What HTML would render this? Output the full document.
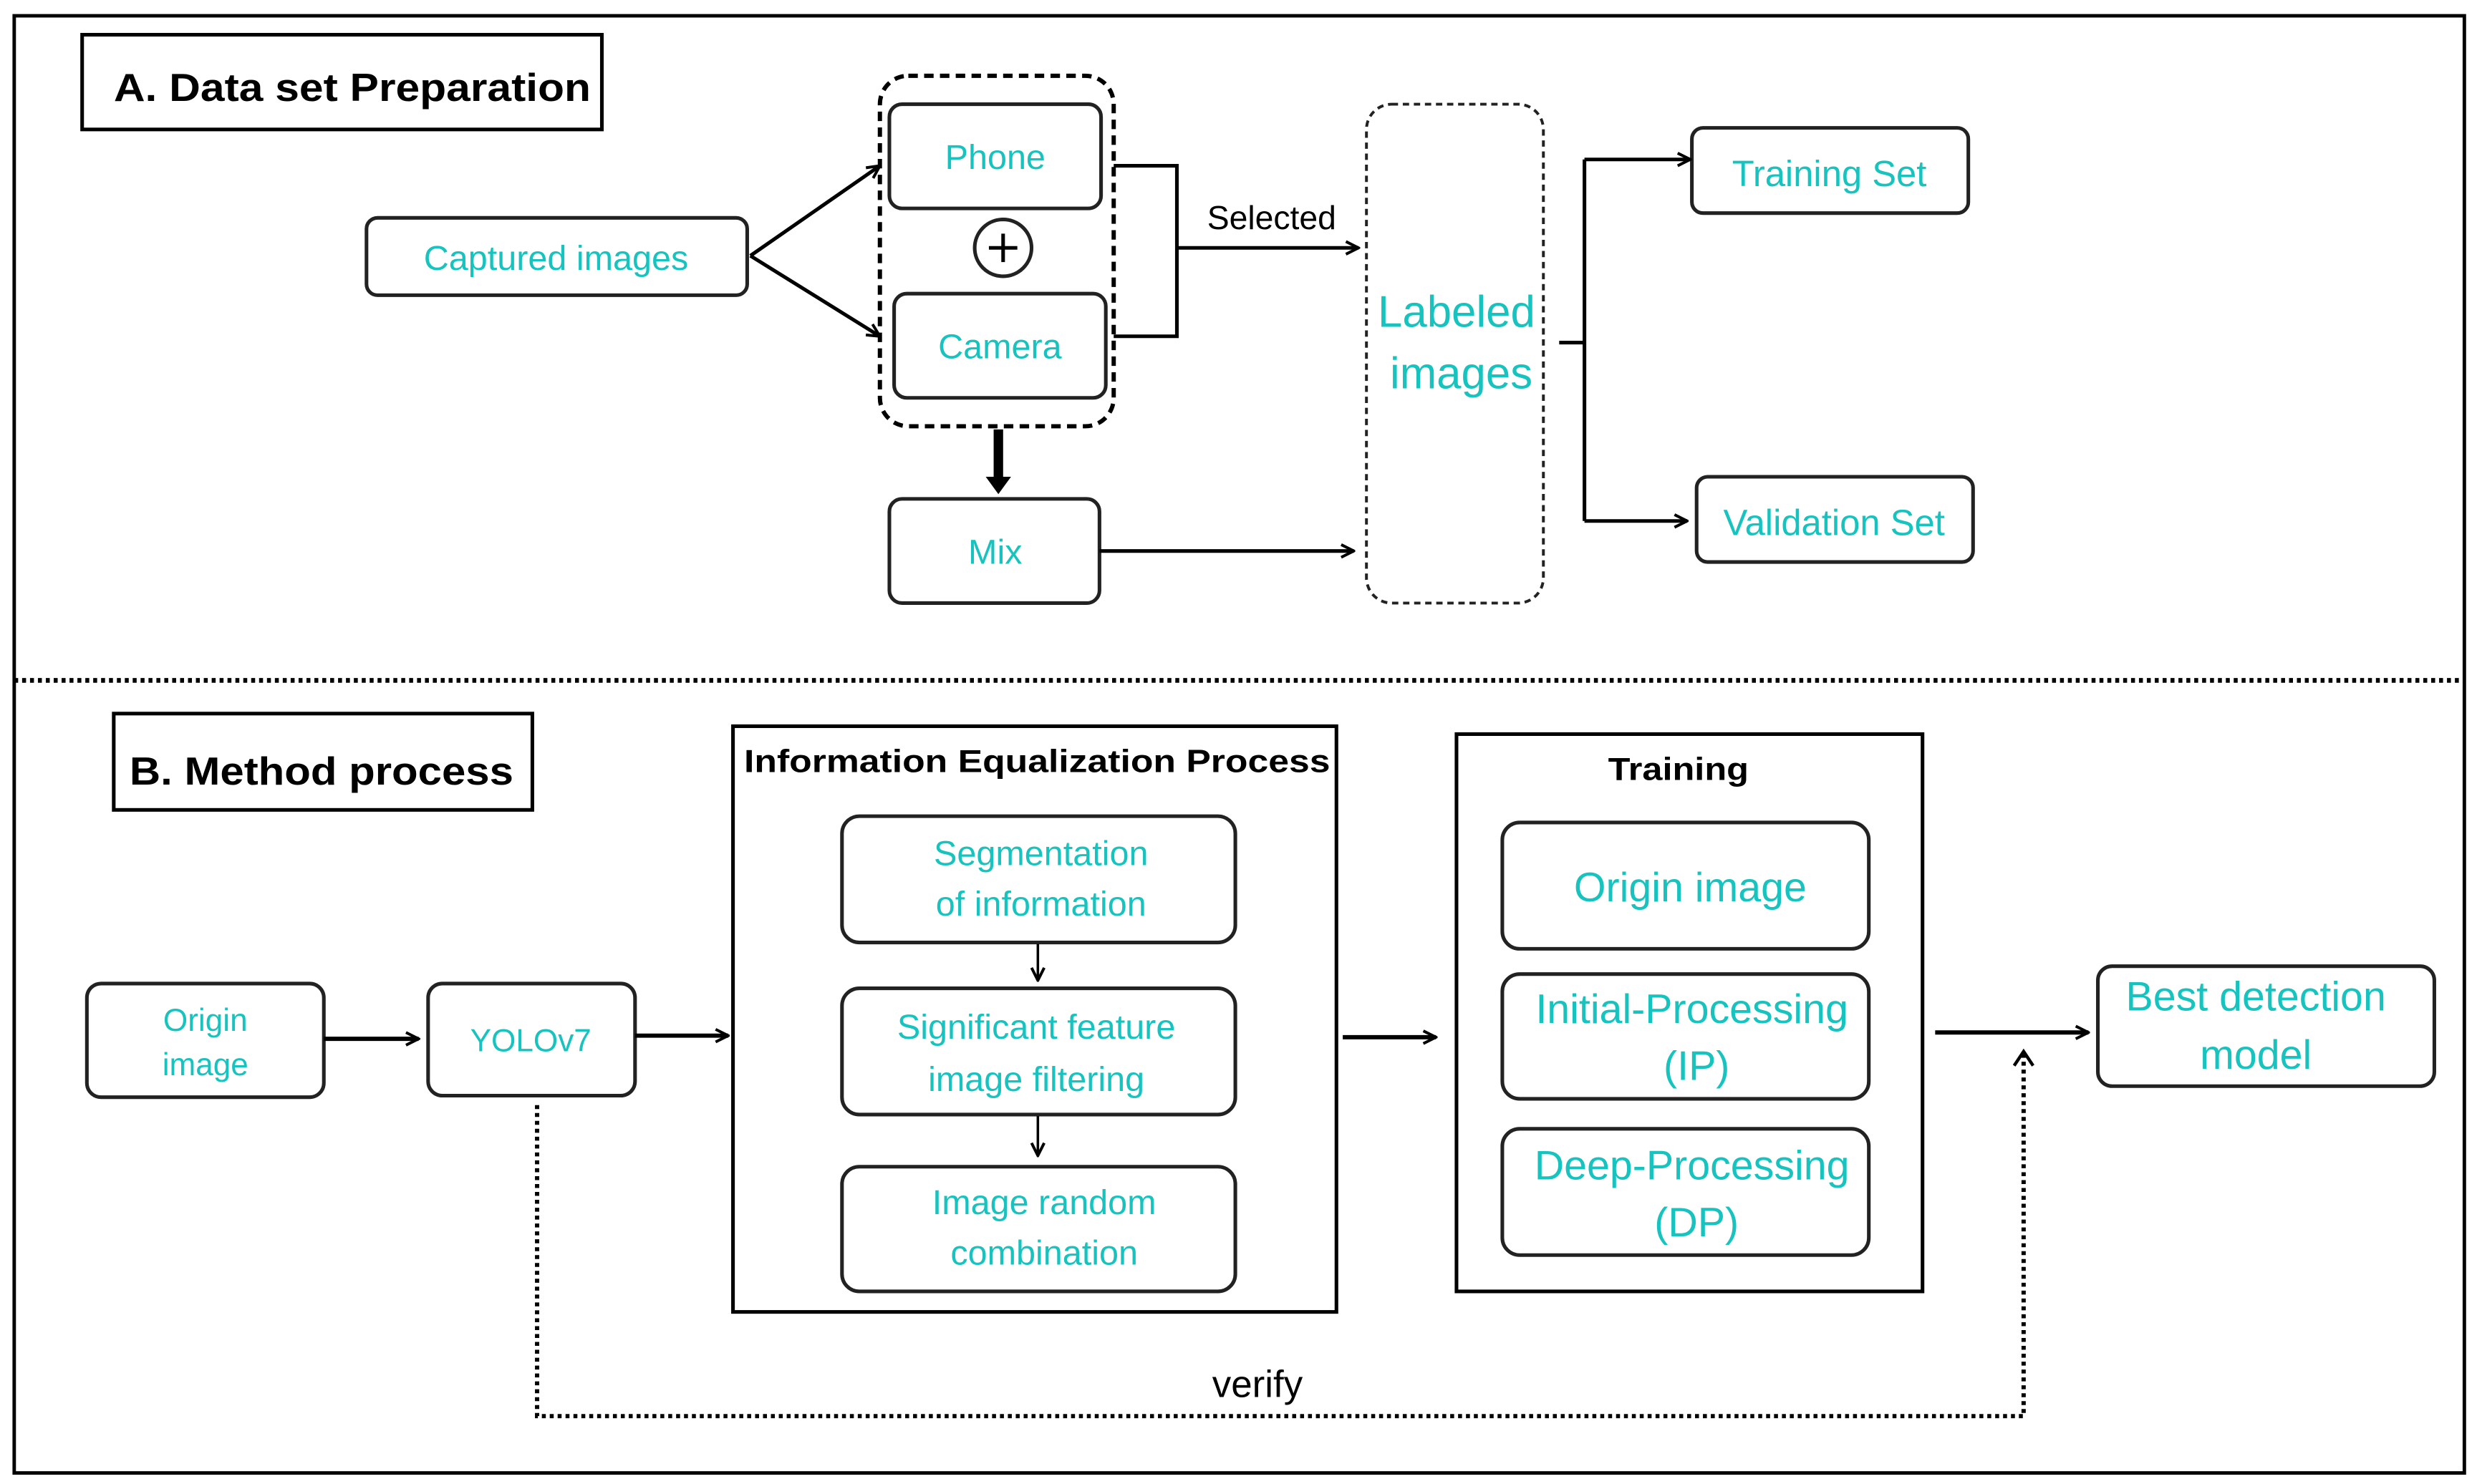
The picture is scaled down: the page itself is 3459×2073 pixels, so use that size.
<!DOCTYPE html>
<html><head><style>html,body{margin:0;padding:0;background:#fff}svg{display:block}</style></head>
<body>
<svg width="3459" height="2073" viewBox="0 0 1568 940" preserveAspectRatio="none" xmlns="http://www.w3.org/2000/svg" font-family="Liberation Sans, sans-serif">
<defs>
<marker id="a" markerWidth="10" markerHeight="10" refX="9" refY="5" orient="auto" markerUnits="userSpaceOnUse"><path d="M1,1 L9,5 L1,9" fill="none" stroke="#000" stroke-width="1.8"/></marker>
</defs>
<rect x="0" y="0" width="1568" height="940" fill="#fff"/>
<rect x="9" y="10" width="1551" height="923" fill="none" stroke="#000" stroke-width="2.2"/>
<g fill="none" stroke="#222" stroke-width="2.3">
<rect x="52" y="22" width="329" height="60" stroke="#000"/>
<rect x="232" y="138" width="241" height="49" rx="7"/>
<rect x="557" y="48" width="148" height="222" rx="18" stroke-dasharray="6,4" stroke-width="2.7" stroke="#000"/>
<rect x="563" y="66" width="134" height="66" rx="8"/>
<rect x="566" y="186" width="134" height="66" rx="8"/>
<circle cx="635" cy="157" r="18"/>
<rect x="563" y="316" width="133" height="66" rx="8"/>
<rect x="865" y="66" width="112" height="316" rx="16" stroke-dasharray="4,3" stroke-width="1.8"/>
<rect x="1071" y="81" width="175" height="54" rx="7"/>
<rect x="1074" y="302" width="175" height="54" rx="7"/>
<rect x="72" y="452" width="265" height="61" stroke="#000"/>
<rect x="55" y="623" width="150" height="72" rx="9"/>
<rect x="271" y="623" width="131" height="71" rx="9"/>
<rect x="464" y="460" width="382" height="371" stroke="#000"/>
<rect x="533" y="517" width="249" height="80" rx="11"/>
<rect x="533" y="626" width="249" height="80" rx="11"/>
<rect x="533" y="739" width="249" height="79" rx="11"/>
<rect x="922" y="465" width="295" height="353" stroke="#000"/>
<rect x="951" y="521" width="232" height="80" rx="11"/>
<rect x="951" y="617" width="232" height="79" rx="11"/>
<rect x="951" y="715" width="232" height="80" rx="11"/>
<rect x="1328" y="612" width="213" height="76" rx="9"/>
</g>
<g fill="none" stroke="#000" stroke-width="2.3">
<line x1="475" y1="162" x2="557" y2="105" marker-end="url(#a)"/>
<line x1="475" y1="162" x2="557" y2="213" marker-end="url(#a)"/>
<polyline points="705,105 745,105 745,213 705,213"/>
<line x1="745" y1="157" x2="860" y2="157" marker-end="url(#a)"/>
<line x1="696" y1="349" x2="857" y2="349" marker-end="url(#a)"/>
<line x1="987" y1="217" x2="1003" y2="217"/>
<line x1="1003" y1="101" x2="1003" y2="330"/>
<line x1="1003" y1="101" x2="1070" y2="101" marker-end="url(#a)"/>
<line x1="1003" y1="330" x2="1068" y2="330" marker-end="url(#a)"/>
<line x1="626" y1="157" x2="644" y2="157"/><line x1="635" y1="148" x2="635" y2="166"/>
<line x1="9" y1="431" x2="1560" y2="431" stroke-dasharray="2.5,2.5" stroke-width="3"/>
<line x1="205" y1="658" x2="265" y2="658" marker-end="url(#a)" stroke-width="2.7"/>
<line x1="402" y1="656" x2="461" y2="656" marker-end="url(#a)" stroke-width="2.7"/>
<line x1="657" y1="598" x2="657" y2="621" marker-end="url(#a)" stroke-width="1.6"/>
<line x1="657" y1="707" x2="657" y2="732" marker-end="url(#a)" stroke-width="1.6"/>
<line x1="850" y1="657" x2="909" y2="657" marker-end="url(#a)" stroke-width="2.7"/>
<line x1="1225" y1="654" x2="1322" y2="654" marker-end="url(#a)" stroke-width="2.7"/>
<polyline points="340,700 340,897 1281,897 1281,668" stroke-dasharray="2.5,2.5" stroke-width="2.7"/>
<path d="M1275,675 L1281,666 L1287,675" stroke-width="2"/>
</g>
<path d="M629,272 L635,272 L635,302 L640,302 L632,313 L624,302 L629,302 Z" fill="#000"/>
<g font-weight="bold" fill="#000">
<text x="72" y="64" font-size="25" textLength="302" lengthAdjust="spacingAndGlyphs">A. Data set Preparation</text>
<text x="82" y="497" font-size="25" textLength="243" lengthAdjust="spacingAndGlyphs">B. Method process</text>
<text x="471" y="489" font-size="20" textLength="371" lengthAdjust="spacingAndGlyphs">Information Equalization Process</text>
<text x="1018" y="494" font-size="20" textLength="89" lengthAdjust="spacingAndGlyphs">Training</text>
</g>
<text x="805" y="145" font-size="21" text-anchor="middle">Selected</text>
<text x="796" y="885" font-size="24" text-anchor="middle">verify</text>
<g fill="#17c3bf" text-anchor="middle">
<text x="352" y="171" font-size="22">Captured images</text>
<text x="630" y="107" font-size="22">Phone</text>
<text x="633" y="227" font-size="22">Camera</text>
<text x="630" y="357" font-size="22">Mix</text>
<text x="922" y="207" font-size="28">Labeled</text>
<text x="925" y="246" font-size="28">images</text>
<text x="1158" y="118" font-size="23">Training Set</text>
<text x="1161" y="339" font-size="23">Validation Set</text>
<text x="130" y="653" font-size="20">Origin</text>
<text x="130" y="681" font-size="20">image</text>
<text x="336" y="666" font-size="20">YOLOv7</text>
<text x="659" y="548" font-size="22">Segmentation</text>
<text x="659" y="580" font-size="22">of information</text>
<text x="656" y="658" font-size="22">Significant feature</text>
<text x="656" y="691" font-size="22">image filtering</text>
<text x="661" y="769" font-size="22">Image random</text>
<text x="661" y="801" font-size="22">combination</text>
<text x="1070" y="571" font-size="26">Origin image</text>
<text x="1071" y="648" font-size="26">Initial-Processing</text>
<text x="1074" y="684" font-size="26">(IP)</text>
<text x="1071" y="747" font-size="26">Deep-Processing</text>
<text x="1074" y="783" font-size="26">(DP)</text>
<text x="1428" y="640" font-size="26">Best detection</text>
<text x="1428" y="677" font-size="26">model</text>
</g>
</svg>
</body></html>
